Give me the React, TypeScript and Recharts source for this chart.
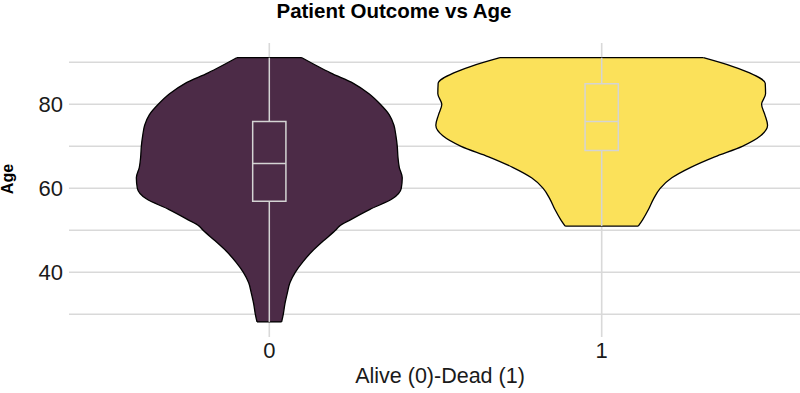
import React from "react";
import { Area, CartesianGrid, ComposedChart, ReferenceArea, ReferenceLine, XAxis, YAxis } from "recharts";

// ages at which the violin outlines were read
const ages = [28.2, 30, 32.5, 35, 37.5, 40, 42.5, 45, 47.5, 50, 51, 52.5, 55, 57.5, 60, 62.5, 65, 67.5, 70, 72.5, 75, 77.5, 80, 82.5, 85, 87.5, 89, 91.1];

// half widths of each violin (x units), null where the group has no data
const aliveWidth = [0.037, 0.042, 0.047, 0.054, 0.062, 0.078, 0.101, 0.129, 0.163, 0.199, 0.211, 0.244, 0.303, 0.370, 0.397, 0.400, 0.391, 0.387, 0.385, 0.381, 0.375, 0.361, 0.334, 0.300, 0.253, 0.184, 0.147, 0.098];
const deadWidth = [null, null, null, null, null, null, null, null, null, null, 0.110, 0.123, 0.141, 0.156, 0.176, 0.211, 0.268, 0.340, 0.423, 0.478, 0.499, 0.491, 0.481, 0.493, 0.492, 0.445, 0.395, 0.306];

const groups = [0, 1];
const groupColors = ["#4c2b47", "#fbe15a"];

// box plot stats: [min, q1, median, q3, max]
const aliveBox = [28.2, 56.9, 65.9, 75.9, 91.1];
const deadBox = [51.0, 69.0, 75.9, 84.9, 91.1];
const boxHalf = 0.05;

const yTicks = [30, 40, 50, 60, 70, 80, 90];
const yLabels = [40, 60, 80];

const rows = ages.map((age, i) => ({ age, alive: aliveWidth[i], dead: deadWidth[i] }));

type Row = { age: number; alive: number | null; dead: number | null };

const rangeOf = (key: "alive" | "dead", center: number) => (d: Row) => {
    const w = d[key];
    return w == null ? [null, null] : [center - w, center + w];
};

function edges(widths: (number | null)[]) {
    const idx = widths.map((w, i) => (w == null ? -1 : i)).filter(i => i >= 0);
    const lo = idx[0];
    const hi = idx[idx.length - 1];
    return [
        { age: ages[lo], w: widths[lo] as number },
        { age: ages[hi], w: widths[hi] as number },
    ];
}

const font = '"Liberation Sans", Arial, Helvetica, sans-serif';
const boxStroke = "#d4d4d4";

const App = () => {
    const boxes = [aliveBox, deadBox];
    const outlines = [edges(aliveWidth), edges(deadWidth)];
    return (
        <div style={{ position: "absolute", left: 0, top: 0, width: 800, height: 393, background: "#fff", fontFamily: font }}>
            <div style={{ position: "absolute", top: -1, left: 194, width: 400, textAlign: "center", fontWeight: "bold", fontSize: 20.5, color: "#000" }}>
                Patient Outcome vs Age
            </div>
            <div style={{ position: "absolute", left: -22, top: 170, width: 60, textAlign: "center", fontWeight: "bold", fontSize: 16, transform: "rotate(-90deg)", lineHeight: "18px", color: "#000" }}>
                Age
            </div>
            <div style={{ position: "absolute", left: 240, top: 364, width: 400, textAlign: "center", fontSize: 21.5, color: "#1a1a1a" }}>
                Alive (0)-Dead (1)
            </div>
            <ComposedChart width={800} height={393} layout="vertical" data={rows} margin={{ top: 43, right: 0, bottom: 0, left: 0 }}>
                <CartesianGrid stroke="#d9d9d9" strokeWidth={1.6} syncWithTicks />
                <XAxis type="number" domain={[-0.6026, 1.5966]} ticks={groups} allowDataOverflow axisLine={false} tickLine={false} height={56} tickSize={0} tickMargin={5} tick={{ fontSize: 22, fill: "#1a1a1a", fontFamily: font }} />
                <YAxis type="number" dataKey="age" reversed domain={[24.6, 94.6]} ticks={yTicks} allowDataOverflow axisLine={false} tickLine={false} width={69} tickSize={0} tickMargin={6} tickFormatter={(v: number) => (yLabels.includes(v) ? String(v) : "")} tick={{ fontSize: 22, fill: "#1a1a1a", fontFamily: font }} />
                <Area type="monotone" dataKey={rangeOf("alive", groups[0])} fill={groupColors[0]} fillOpacity={1} stroke="#000" strokeWidth={1.3} connectNulls isAnimationActive={false} />
                <Area type="monotone" dataKey={rangeOf("dead", groups[1])} fill={groupColors[1]} fillOpacity={1} stroke="#000" strokeWidth={1.3} connectNulls isAnimationActive={false} />
                {outlines.map((o, g) =>
                    o.map((e, k) => (
                        <ReferenceLine key={`o${g}${k}`} segment={[{ x: groups[g] - e.w, y: e.age }, { x: groups[g] + e.w, y: e.age }]} stroke="#000" strokeWidth={1.3} />
                    ))
                )}
                {boxes.map((b, g) => (
                    <ReferenceLine key={`wl${g}`} segment={[{ x: groups[g], y: b[0] }, { x: groups[g], y: b[1] }]} stroke={boxStroke} strokeWidth={1.5} />
                ))}
                {boxes.map((b, g) => (
                    <ReferenceLine key={`wh${g}`} segment={[{ x: groups[g], y: b[3] }, { x: groups[g], y: b[4] }]} stroke={boxStroke} strokeWidth={1.5} />
                ))}
                {boxes.map((b, g) => (
                    <ReferenceArea key={`b${g}`} x1={groups[g] - boxHalf} x2={groups[g] + boxHalf} y1={b[1]} y2={b[3]} fill="none" fillOpacity={0} stroke={boxStroke} strokeWidth={1.5} />
                ))}
                {boxes.map((b, g) => (
                    <ReferenceLine key={`m${g}`} segment={[{ x: groups[g] - boxHalf, y: b[2] }, { x: groups[g] + boxHalf, y: b[2] }]} stroke={boxStroke} strokeWidth={1.5} />
                ))}
            </ComposedChart>
        </div>
    );
};

export default App;
